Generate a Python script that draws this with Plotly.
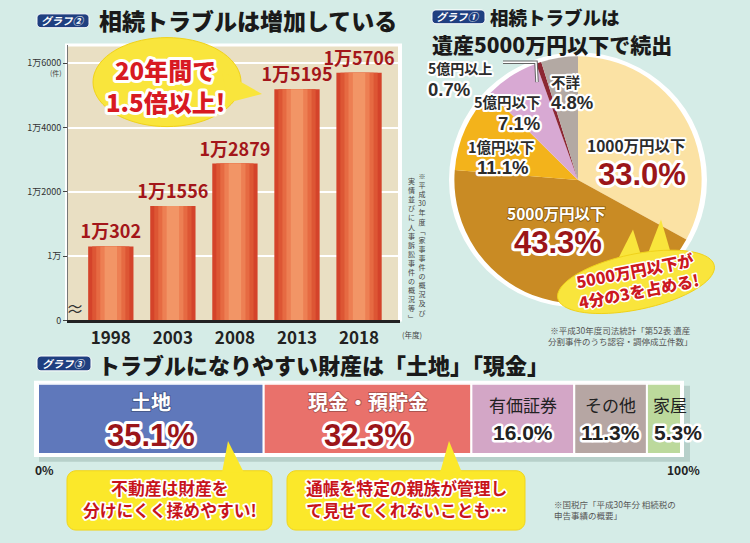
import plotly.graph_objects as go
import numpy as np

W, H = 750, 543
def X(px): return px / W
def Y(py): return 1 - py / H

# ---------------- data ----------------
years = ["1998", "2003", "2008", "2013", "2018"]
cases = [10302, 11556, 12879, 15195, 15706]
y_tickvals = [8000, 10000, 12000, 14000, 16000]
y_ticktext = ["0", "1万", "1万2000", "1万4000", "1万6000"]

pie_labels = ["1000万円以下", "5000万円以下", "1億円以下", "5億円以下", "5億円以上", "不詳"]
pie_values = [33.0, 43.3, 11.1, 7.1, 0.7, 4.8]

asset_labels = ["土地", "現金・預貯金", "有価証券", "その他", "家屋"]
asset_values = [35.1, 32.3, 16.0, 11.3, 5.3]

# ---------------- styles ----------------
FONT = "Noto Sans CJK JP"
NUM = "Liberation Sans"
BG = "#d5ece7"
DARK = "#2b2b2b"
DRED = "#9b1519"
pie_colors = ["#fbe2a4", "#c98b24", "#f3b31b", "#d8a9d3", "#8c2733", "#b3a9a3"]
asset_colors = ["#5f78bb", "#e9716b", "#d3a6c6", "#b6a6a3", "#bcd99c"]
bar_layers = [(0.73, "#d4432a"), (0.60, "#dd5634"), (0.47, "#e66a42"),
              (0.34, "#ed7f53"), (0.20, "#f29566")]


def S(text, stroke=None, sw=0, fsize=None):
    st = []
    if fsize:
        st.append(f"font-size:{fsize}px")
    if stroke:
        st += [f"stroke:{stroke}", f"stroke-width:{sw}px", "paint-order:stroke",
               "stroke-linejoin:round"]
    if not st:
        return text
    lines = text.split("<br>")
    return "<br>".join(f'<span style="{";".join(st)}">{ln}</span>' for ln in lines)


fig = go.Figure()

# ---- bar chart (graph 2) ----
labels_txt = [f"1万{v - 10000}" for v in cases]
for i, (wd, col) in enumerate(bar_layers):
    fig.add_trace(go.Bar(
        x=list(range(len(years))), y=cases, width=wd, marker=dict(color=col, line=dict(width=0)),
        xaxis="x", yaxis="y", showlegend=False, hoverinfo="skip",
        text=labels_txt if i == 0 else None, textposition="outside" if i == 0 else "none",
        textfont=dict(family=FONT, size=18, color="#a3161a", weight="bold"),
        constraintext="none", cliponaxis=False))

# ---- pie (graph 1) ----
fig.add_trace(go.Pie(
    values=pie_values, labels=pie_labels, sort=False, direction="clockwise", rotation=0,
    marker=dict(colors=pie_colors, line=dict(width=0)), textinfo="none", hoverinfo="skip",
    showlegend=False, domain=dict(x=[X(453), X(703)], y=[Y(307), Y(57)])))

# ---- stacked horizontal bar (graph 3) ----
starts = np.concatenate([[0], np.cumsum(asset_values)[:-1]])
for lab, v, s, col in zip(asset_labels, asset_values, starts, asset_colors):
    fig.add_trace(go.Bar(
        y=[0], x=[v], base=[s], orientation="h", width=1, xaxis="x2", yaxis="y2",
        marker=dict(color=col, line=dict(color="white", width=2)), showlegend=False,
        hoverinfo="skip", name=lab))

shapes = []
def rect(x0, y0, x1, y1, fill, line=None, lw=0, layer="below", opacity=1):
    shapes.append(dict(type="rect", xref="paper", yref="paper", x0=X(x0), x1=X(x1),
                       y0=Y(y1), y1=Y(y0), fillcolor=fill, layer=layer, opacity=opacity,
                       line=dict(color=line or fill, width=lw)))

def path(pts, fill=None, line=None, lw=0, layer="above", close=True):
    d = "M " + " L ".join(f"{X(a):.5f},{Y(b):.5f}" for a, b in pts) + (" Z" if close else "")
    shapes.append(dict(type="path", xref="paper", yref="paper", path=d, layer=layer,
                       fillcolor=fill if fill else "rgba(0,0,0,0)",
                       line=dict(color=line if line else "rgba(0,0,0,0)", width=lw)))

def ellipse_pts(cx, cy, rx, ry, ang=0, n=72):
    t = np.linspace(0, 2 * np.pi, n, endpoint=False)
    a = np.deg2rad(ang)
    xs = cx + rx * np.cos(t) * np.cos(a) - ry * np.sin(t) * np.sin(a)
    ys = cy + rx * np.cos(t) * np.sin(a) + ry * np.sin(t) * np.cos(a)
    return list(zip(xs, ys))

def rrect_pts(x0, y0, x1, y1, r, n=6):
    pts = []
    for cx, cy, a0 in [(x1 - r, y0 + r, -90), (x1 - r, y1 - r, 0), (x0 + r, y1 - r, 90), (x0 + r, y0 + r, 180)]:
        for k in range(n + 1):
            a = np.deg2rad(a0 + 90 * k / n)
            pts.append((cx + r * np.cos(a), cy + r * np.sin(a)))
    return pts

# bar chart panel
rect(65, 44, 402, 325, "white")
rect(68, 47, 398, 324, "#e9dfc3")
# pie white rim
shapes.append(dict(type="circle", xref="paper", yref="paper", x0=X(449), x1=X(707),
                   y0=Y(311), y1=Y(53), fillcolor="white", line=dict(width=0), layer="below"))
# bottom panel with shadow
rect(39, 390, 690, 467, "#a9c4be", layer="below", opacity=0.7)
rect(34, 385, 684, 462, "white")

# badges
for (x0, y0, x1, y1) in [(37, 14, 89, 28), (432, 10, 485, 24), (37, 360, 91, 375)]:
    path(rrect_pts(x0, y0, x1, y1, 4), fill="#1f3f80", line="white", lw=1)

# bubble graph 2
path(ellipse_pts(167, 83, 74, 45), fill="#f9e53c", line="#f0d21a", lw=1)
path([(222, 72), (262, 95), (228, 104)], fill="#f9e53c")
# bubble graph 1
path([(618, 262), (633, 232), (641, 258)], fill="#f9e53c")
path([(648, 256), (661, 222), (670, 253)], fill="#f9e53c")
path(ellipse_pts(636, 285, 80, 28, -12), fill="#f9e53c", line="#f0d21a", lw=1)
# callouts graph 3
path(rrect_pts(67, 476, 272, 536, 9), fill="#fbe82a", line="#f1d51a", lw=1)
path([(222, 478), (228, 446), (244, 478)], fill="#fbe82a")
path(rrect_pts(287, 476, 525, 536, 9), fill="#fbe82a", line="#f1d51a", lw=1)
path([(440, 478), (449, 446), (462, 478)], fill="#fbe82a")
# leader line for 0.7%
path([(503, 63), (536, 63), (537, 83)], line="#666", lw=3.5, close=False)
path([(503, 63), (536, 63), (537, 83)], line="white", lw=1.5, close=False)

ann = []
def A(text, x, y, size, color="#222", weight="normal", xanchor="center", align="center",
      angle=0, style="normal", xref="paper", yanchor="middle", xshift=0, family=FONT,
      stroke=None, sw=0, fsize=None):
    ann.append(dict(text=S(text, stroke, sw, fsize), x=X(x) if xref == "paper" else x, y=Y(y),
                    xref=xref, yref="paper", showarrow=False,
                    font=dict(family=family, size=size, color=color, weight=weight, style=style),
                    xanchor=xanchor, yanchor=yanchor, textangle=angle, align=align,
                    xshift=xshift, borderpad=0))

# titles
A("グラフ②", 63, 21, 10.5, "white", "bold", style="italic")
A("グラフ①", 458.5, 17, 10.5, "white", "bold", style="italic")
A("グラフ③", 64, 367.5, 10.5, "white", "bold", style="italic")
A("相続トラブルは増加している", 98, 20, 23, "#1a1a1a", 900, xanchor="left")
A("相続トラブルは", 489, 17, 18.5, "#1a1a1a", 900, xanchor="left")
A("遺産5000万円以下で続出", 431, 44, 21, "#1a1a1a", 900, xanchor="left")
A("トラブルになりやすい財産は「土地」「現金」", 97, 368, 22, "#1a1a1a", 900, xanchor="left")

# bar chart extras
A("20年間で<br>1.5倍以上!", 165, 86, 24.5, "#d81a22", 900, stroke="#fff", sw=6, fsize=24)
A("(件)", 56, 74, 7, "#444")
A("≈", 75, 311, 18, "#333")
A("(年度)", 412, 338, 7.5, "#444")
vnote_r = ["※", "平", "成", "30", "年", "度", "﹁", "家", "事", "事", "件", "の", "概", "況", "及", "び"]
vnote_l = ["実", "情", "並", "び", "に", "人", "事", "訴", "訟", "事", "件", "の", "概", "況", "等", "﹂"]
A("<br>".join(vnote_r), 422, 172, 7, "#444", yanchor="top")
A("<br>".join(vnote_l), 411, 177, 7, "#444", yanchor="top")

# pie labels
def lab(t, x, y, sz=14.5, **kw):
    A(t, x, y, sz, DARK, "bold", stroke="#fff", sw=4, **kw)
def pct(t, x, y, sz=18.5, color=DARK, sw=4.5, **kw):
    A(t, x, y, sz, color, "bold", family=NUM, stroke="#fff", sw=sw, **kw)

lab("5億円以上", 427, 68.5, 14, xanchor="left")
pct("0.7%", 427, 90, xanchor="left")
lab("不詳", 566, 82)
pct("4.8%", 572, 103.5)
lab("5億円以下", 542, 103, xanchor="right")
pct("7.1%", 541, 124.5, xanchor="right")
lab("1億円以下", 501, 148)
pct("11.1%", 502, 169.5)
lab("1000万円以下", 687, 147, 15.5, xanchor="right")
pct("33.0%", 687, 176, 31, DRED, 6, xanchor="right")
A("5000万円以下", 556, 215, 15.5, "white", "bold", stroke="rgba(90,55,0,0.45)", sw=2)
pct("43.3%", 558, 245, 31, DRED, 6)
A("5000万円以下が<br>4分の3を占める!", 637, 284, 16, "#cc1820", 900, angle=-11, stroke="#fff", sw=3)
A("※平成30年度司法統計「第52表 遺産<br>分割事件のうち認容・調停成立件数」", 620, 339, 8.5, "#555")

# stacked bar labels
mids = starts + np.array(asset_values) / 2
for i, (lb, v, m) in enumerate(zip(asset_labels, asset_values, mids)):
    if i < 2:
        A(lb, m, 406, 20, "white", "bold", xref="x2", stroke="rgba(0,0,0,0.25)", sw=2)
        A(f"{v:.1f}%", m, 440, 31, DRED, "bold", xref="x2", family=NUM, stroke="#fff", sw=6)
    else:
        xs = 14 if i == 4 else 0
        A(lb, m, 409, 17, "#222", "normal", xref="x2", xshift=xs * 0.4)
        A(f"{v:.1f}%", m, 437, 21, "#222", "bold", xref="x2", family=NUM, stroke="#fff", sw=5,
          xshift=xs)
A("0%", 44, 475, 12, "#222", "bold")
A("100%", 683, 475, 12, "#222", "bold")
A("不動産は財産を<br>分けにくく揉めやすい!", 170, 505, 16.6, "#c8141b", "bold",
  stroke="#fff", sw=3.5, fsize=16.8)
A("通帳を特定の親族が管理し<br>て見せてくれないことも…", 406, 505, 16.6, "#c8141b", "bold",
  stroke="#fff", sw=3.5, fsize=16.8)
A("※国税庁「平成30年分 相続税の<br>申告事績の概要」", 553, 515, 8.5, "#555", xanchor="left", align="left")

fig.update_layout(
    width=W, height=H, margin=dict(l=0, r=0, t=0, b=0),
    paper_bgcolor=BG, plot_bgcolor="rgba(0,0,0,0)", barmode="overlay",
    shapes=shapes, annotations=ann,
    font=dict(family=FONT),
    xaxis=dict(domain=[X(68), X(400)], range=[-0.69, 4.66], tickvals=list(range(len(years))),
               ticktext=years, tickfont=dict(family=FONT, size=17, color="#222", weight="bold"),
               showgrid=False, showline=True, linecolor="#222", linewidth=2.5, ticks="",
               zeroline=False, fixedrange=True, anchor="y"),
    yaxis=dict(domain=[Y(324), Y(45)], range=[8000, 8000 + 279 / 0.0325], tickvals=y_tickvals,
               ticktext=y_ticktext, tickfont=dict(family=FONT, size=9, color="#333"),
               showgrid=True, gridcolor="white", gridwidth=1.5, ticks="outside", ticklen=4,
               tickcolor="#444", showline=True, linecolor="#777", linewidth=1, zeroline=False,
               fixedrange=True, anchor="x"),
    xaxis2=dict(domain=[X(38), X(681)], range=[0, 100], visible=False, anchor="y2", fixedrange=True),
    yaxis2=dict(domain=[Y(459), Y(388)], range=[-0.5, 0.5], visible=False, anchor="x2", fixedrange=True),
)

fig.write_html("out.html", config={"displayModeBar": False},
               post_script="document.body.style.margin='0';document.body.style.overflow='hidden';")
